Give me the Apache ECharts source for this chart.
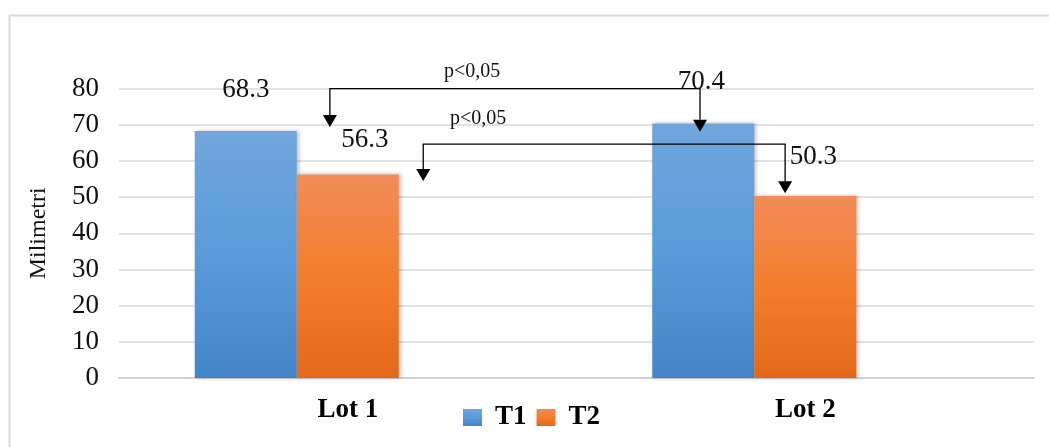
<!DOCTYPE html>
<html>
<head>
<meta charset="utf-8">
<script src="https://cdn.jsdelivr.net/npm/echarts@6/dist/echarts.min.js"></script>
<style>
  html, body { margin: 0; padding: 0; background: #fff; }
  #chart { width: 1049px; height: 447px; }
</style>
</head>
<body>
<div id="chart"></div>
<script>
// Categories and measured values (mm)
var categories = ['Lot 1', 'Lot 2'];
var seriesNames = ['T1', 'T2'];
var valuesT1 = [68.3, 70.4];
var valuesT2 = [56.3, 50.3];
var yTicks = [0, 10, 20, 30, 40, 50, 60, 70, 80];

// Significance brackets, in data units: [xStart, xEnd, yBar, yTipStart, yTipEnd]
// x runs 0..2 across the two categories
var bracketT1 = [0.461, 1.270, 80, 69.4, 68.1];
var bracketT2 = [0.665, 1.456, 64.7, 54.5, 51.1];
var bracketText = ['p<0,05', 'p<0,05'];
var bracketTextAt = [[0.772, 84.7], [0.785, 71.6]];

var FONT = '"Liberation Serif", "Times New Roman", serif';

// label nudges per bar (pixels)
var labelShiftT1 = [[0, -23], [-2, -23]];
var labelShiftT2 = [[17, -16], [8, -21]];

function withLabels(values, shifts) {
  return values.map(function (v, i) {
    return { value: v, label: { offset: shifts[i] } };
  });
}

function grad(top, mid, bottom) {
  return new echarts.graphic.LinearGradient(0, 0, 0, 1, [
    { offset: 0, color: top }, { offset: 0.5, color: mid }, { offset: 1, color: bottom }
  ]);
}

var barLabel = {
  show: true, position: 'top', distance: 5,
  fontFamily: FONT, fontSize: 27, color: '#111'
};
var barShadow = { shadowColor: 'rgba(0,0,0,0.25)', shadowBlur: 4, shadowOffsetX: 2, shadowOffsetY: 0 };

var brackets = [bracketT1, bracketT2];

function renderBracket(params, api) {
  var i = params.dataIndex;
  var b = brackets[i];
  var p0 = api.coord([b[0], b[2]]);
  var p1 = api.coord([b[1], b[2]]);
  var t0 = api.coord([b[0], b[3]]);
  var t1 = api.coord([b[1], b[4]]);
  var ah = 12, aw = 7;
  var lineStyle = { stroke: '#000', lineWidth: 1.3, fill: null };
  var txt = api.coord(bracketTextAt[i]);
  return {
    type: 'group',
    children: [
      { type: 'polyline', shape: { points: [[t0[0], t0[1] - ah], p0, p1, [t1[0], t1[1] - ah]] }, style: lineStyle },
      { type: 'polygon', shape: { points: [[t0[0] - aw, t0[1] - ah], [t0[0] + aw, t0[1] - ah], t0] }, style: { fill: '#000' } },
      { type: 'polygon', shape: { points: [[t1[0] - aw, t1[1] - ah], [t1[0] + aw, t1[1] - ah], t1] }, style: { fill: '#000' } },
      { type: 'text', x: txt[0], y: txt[1],
        style: { text: bracketText[i], font: '20px ' + FONT, fill: '#111', align: 'center', verticalAlign: 'middle' } }
    ]
  };
}

var chart = echarts.init(document.getElementById('chart'), null, { renderer: 'canvas' });
chart.setOption({
  backgroundColor: '#fff',
  animation: false,
  graphic: [{
    type: 'rect', left: 7, top: 13, z: -10,
    shape: { width: 1060, height: 460 },
    style: { fill: null, stroke: '#d9d9d9', lineWidth: 2 }
  }],
  grid: { left: 119, right: 15, top: 88.7, bottom: 69 },
  legend: {
    data: seriesNames,
    left: 458, top: 399,
    itemWidth: 19, itemHeight: 17, itemGap: 10,
    icon: 'rect',
    textStyle: { fontFamily: FONT, fontSize: 27, fontWeight: 'bold', color: '#000', padding: [0, 0, 0, 8] }
  },
  xAxis: [{
    type: 'category',
    data: categories,
    axisTick: { show: false },
    axisLine: { lineStyle: { color: '#d0d0d0', width: 2 } },
    axisLabel: { fontFamily: FONT, fontSize: 27, fontWeight: 'bold', color: '#000', margin: 19 }
  }, {
    type: 'value', min: 0, max: 2, show: false
  }],
  yAxis: {
    type: 'value', min: yTicks[0], max: yTicks[yTicks.length - 1], interval: 10,
    name: 'Milimetri', nameLocation: 'middle', nameGap: 68, nameRotate: 90,
    nameTextStyle: { fontFamily: FONT, fontSize: 24, color: '#111' },
    axisLine: { show: false },
    axisTick: { show: false },
    axisLabel: { fontFamily: FONT, fontSize: 27, color: '#111', margin: 20 },
    splitLine: { lineStyle: { color: '#d9d9d9', width: 1.5 } }
  },
  series: [{
    name: seriesNames[0], type: 'bar', barWidth: 102, barGap: '0%',
    data: withLabels(valuesT1, labelShiftT1),
    itemStyle: Object.assign({ color: grad('#70a6dc', '#5a9bda', '#4285c6') }, barShadow),
    label: barLabel
  }, {
    name: seriesNames[1], type: 'bar', barWidth: 102, barGap: '0%',
    data: withLabels(valuesT2, labelShiftT2),
    itemStyle: Object.assign({ color: grad('#f18c58', '#f37e2c', '#e2691a') }, barShadow),
    label: barLabel
  }, {
    // empty third slot in each group
    name: '', type: 'bar', barWidth: 102, barGap: '0%',
    data: categories.map(function () { return null; })
  }, {
    type: 'custom', xAxisIndex: 1, yAxisIndex: 0, z: 10,
    renderItem: renderBracket,
    encode: { x: [0, 1], y: [2, 3, 4] },
    data: brackets
  }]
});
</script>
</body>
</html>
